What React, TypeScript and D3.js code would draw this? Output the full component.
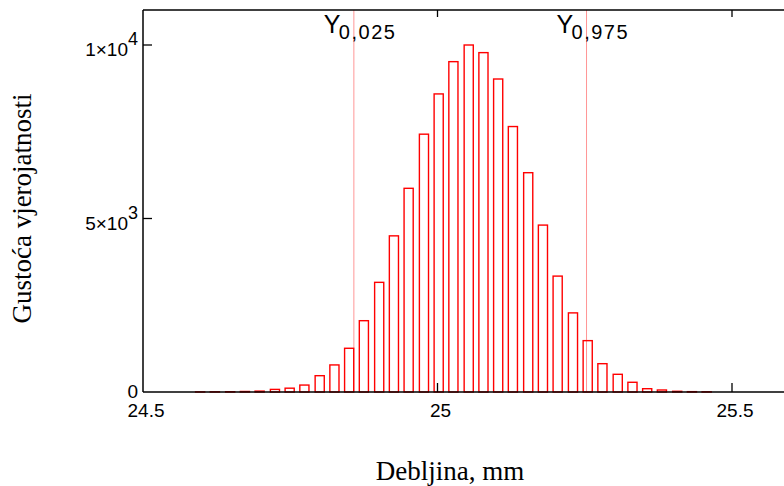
import React from "react";
import * as d3 from "d3";

const binCenters = [
  24.597, 24.622, 24.648, 24.673, 24.698, 24.724, 24.749, 24.774, 24.8, 24.825,
  24.85, 24.875, 24.901, 24.926, 24.951, 24.977, 25.002, 25.027, 25.053, 25.078,
  25.103, 25.128, 25.154, 25.179, 25.204, 25.23, 25.255, 25.28, 25.306, 25.331,
  25.356, 25.381, 25.407, 25.432, 25.457,
];
const density = [
  3, 5, 8, 15, 25, 75, 110, 200, 470, 780,
  1260, 2055, 3160, 4500, 5870, 7430, 8590, 9520, 10000, 9780,
  9020, 7650, 6320, 4810, 3340, 2280, 1480, 816, 510, 280,
  95, 58, 20, 10, 5,
];
const binWidth = 0.0155;
const quantiles = [
  { value: 24.858, sub: "0,025" },
  { value: 25.253, sub: "0,975" },
];
const xTicks = [24.5, 25, 25.5];
const xTickLabels = ["24.5", "25", "25.5"];
const yTicks = [0, 5000, 10000];
const yTickMain = ["0", "5×10", "1×10"];
const yTickSup = ["", "3", "4"];
const xTitle = "Debljina, mm";
const yTitle = "Gustoća vjerojatnosti";

export default function App() {
  const W = 784;
  const H = 486;
  const left = 143;
  const top = 10;
  const bottom = 392;
  const x = d3.scaleLinear().domain([24.5, 25.5]).range([left, 732]);
  const y = d3.scaleLinear().domain([0, 10000]).range([bottom, 45]);
  const sans = "'Liberation Sans', Arial, sans-serif";
  const serif = "'Liberation Serif', 'Times New Roman', serif";

  return (
    <svg
      width={W}
      height={H}
      style={{ position: "absolute", left: 0, top: 0, background: "#fff" }}
    >
      {quantiles.map((q, i) => (
        <line
          key={"q" + i}
          x1={x(q.value)}
          x2={x(q.value)}
          y1={top}
          y2={bottom}
          stroke="#ff4040"
          strokeOpacity={0.7}
          strokeWidth={0.8}
        />
      ))}
      {density.map((d, i) => {
        const x0 = x(binCenters[i] - binWidth / 2);
        const x1 = x(binCenters[i] + binWidth / 2);
        return (
          <rect
            key={i}
            x={x0}
            y={y(d)}
            width={x1 - x0}
            height={bottom - y(d)}
            fill="none"
            stroke="#ff0000"
            strokeWidth={1.4}
          />
        );
      })}
      {/* frame */}
      <line x1={left} x2={W} y1={top} y2={top} stroke="#000" strokeWidth={1.5} />
      <line x1={left} x2={W} y1={bottom} y2={bottom} stroke="#000" strokeWidth={1.5} />
      <line x1={left} x2={left} y1={top} y2={bottom} stroke="#000" strokeWidth={1.5} />
      {xTicks.map((t, i) => (
        <g key={"xt" + i}>
          {i > 0 && (
            <>
              <line x1={x(t)} x2={x(t)} y1={bottom} y2={bottom - 9} stroke="#000" strokeWidth={1.3} />
              <line x1={x(t)} x2={x(t)} y1={top} y2={top + 7} stroke="#000" strokeWidth={1.3} />
            </>
          )}
          <text
            x={x(t) + 3}
            y={417}
            textAnchor="middle"
            fontFamily={sans}
            fontSize={19}
            fill="#000"
          >
            {xTickLabels[i]}
          </text>
        </g>
      ))}
      {yTicks.map((t, i) => (
        <g key={"yt" + i}>
          {i > 0 && (
            <line x1={left} x2={left + 9} y1={y(t)} y2={y(t)} stroke="#000" strokeWidth={1.3} />
          )}
          <text
            x={138}
            y={y(t) + (i === 0 ? 6 : 11)}
            textAnchor="end"
            fontFamily={sans}
            fontSize={19}
            fill="#000"
          >
            {yTickMain[i]}
            {yTickSup[i] && (
              <tspan dy={-11} fontSize={18}>
                {yTickSup[i]}
              </tspan>
            )}
          </text>
        </g>
      ))}
      {quantiles.map((q, i) => (
        <g key={"ql" + i}>
          <text x={x(q.value) - 30} y={33.3} fontFamily={sans} fontSize={25} fill="#000">
            Y
          </text>
          <text
            x={x(q.value) - 15}
            y={39.3}
            fontFamily={sans}
            fontSize={20}
            fill="#000"
            textLength={56}
            lengthAdjust="spacing"
          >
            {q.sub}
          </text>
        </g>
      ))}
      <text
        x={450}
        y={480}
        textAnchor="middle"
        fontFamily={serif}
        fontSize={27}
        fill="#000"
      >
        {xTitle}
      </text>
      <text
        transform={`translate(31, 208.5) rotate(-90)`}
        textAnchor="middle"
        fontFamily={serif}
        fontSize={27}
        fill="#000"
      >
        {yTitle}
      </text>
    </svg>
  );
}
